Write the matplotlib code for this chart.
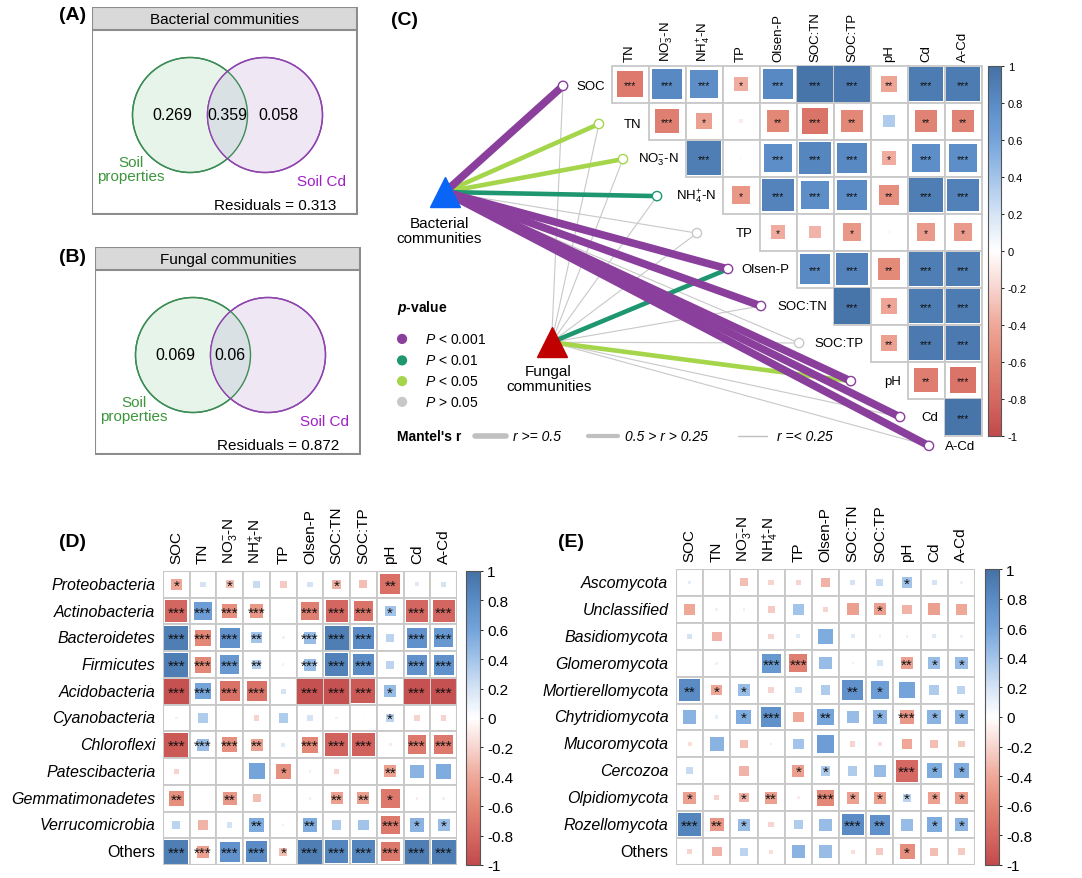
import numpy as np
import matplotlib as mpl
import matplotlib.pyplot as plt
from matplotlib.colors import LinearSegmentedColormap, Normalize
from matplotlib.patches import Rectangle, Circle

plt.rcParams['font.family'] = ['Liberation Sans', 'DejaVu Sans']
plt.rcParams['mathtext.fontset'] = 'custom'
plt.rcParams['mathtext.rm'] = 'Liberation Sans'
plt.rcParams['mathtext.it'] = 'Liberation Sans:italic'
plt.rcParams['mathtext.bf'] = 'Liberation Sans:italic:bold'

W, H = 1082, 879

# ---------------- data ----------------
env_labels = ['SOC', 'TN', r'NO$_3^{-}$-N', r'NH$_4^{+}$-N', 'TP', 'Olsen-P',
              'SOC:TN', 'SOC:TP', 'pH', 'Cd', 'A-Cd']

# variation partitioning (soil properties only, shared, soil Cd only)
bac_venn = ['0.269', '0.359', '0.058']
bac_resid = 0.313
fun_venn = ['0.069', '0.06', '']
fun_resid = 0.872

# soil variable correlations, upper triangle (row i vs variables i+1 ...)
env_r = [
    [-0.68, 0.82, 0.78, -0.38, 0.82, 0.97, 0.95, -0.42, 0.92, 0.92],
    [-0.65, -0.45, -0.10, -0.60, -0.72, -0.60, 0.35, -0.62, -0.62],
    [0.90, -0.04, 0.78, 0.84, 0.82, -0.38, 0.78, 0.78],
    [-0.50, 0.86, 0.78, 0.80, -0.55, 0.90, 0.88],
    [-0.38, -0.35, -0.50, 0.06, -0.48, -0.48],
    [0.82, 0.86, -0.58, 0.90, 0.90],
    [0.97, -0.42, 0.92, 0.92],
    [-0.45, 0.93, 0.93],
    [-0.66, -0.72],
    [0.97],
]
env_sig = [
    [3, 3, 3, 1, 3, 3, 3, 2, 3, 3],
    [3, 1, 0, 2, 3, 2, 0, 2, 2],
    [3, 0, 3, 3, 3, 1, 3, 3],
    [1, 3, 3, 3, 2, 3, 3],
    [1, 0, 1, 0, 1, 1],
    [3, 3, 2, 3, 3],
    [3, 1, 3, 3],
    [2, 3, 3],
    [2, 3],
    [3],
]

# Mantel tests: community vs each soil variable
bac_mantel_r = [0.60, 0.35, 0.35, 0.30, 0.10, 0.55, 0.55, 0.15, 0.60, 0.60, 0.60]
bac_mantel_p = [0.0005, 0.03, 0.03, 0.005, 0.20, 0.0005, 0.0005, 0.10, 0.0005, 0.0005, 0.0005]
fun_mantel_r = [0.05, 0.05, 0.05, 0.05, 0.05, 0.30, 0.05, 0.05, 0.30, 0.10, 0.10]
fun_mantel_p = [0.50, 0.40, 0.40, 0.40, 0.30, 0.005, 0.40, 0.30, 0.02, 0.20, 0.20]

bac_taxa = ['Proteobacteria', 'Actinobacteria', 'Bacteroidetes', 'Firmicutes',
            'Acidobacteria', 'Cyanobacteria', 'Chloroflexi', 'Patescibacteria',
            'Gemmatimonadetes', 'Verrucomicrobia', 'Others']
bac_r = [
    [-0.40, 0.20, -0.30, 0.25, -0.25, 0.20, -0.35, -0.30, -0.75, 0.15, 0.20],
    [-0.82, 0.65, -0.55, -0.50, -0.02, -0.65, -0.82, -0.72, 0.40, -0.82, -0.82],
    [0.90, -0.60, 0.75, 0.40, 0.10, 0.45, 0.90, 0.80, 0.30, 0.75, 0.70],
    [0.90, -0.60, 0.70, 0.35, 0.08, 0.45, 0.88, 0.80, 0.30, 0.75, 0.75],
    [-0.95, 0.60, -0.75, -0.75, 0.20, -0.95, -0.95, -0.90, 0.45, -0.95, -0.95],
    [0.10, 0.35, 0.02, -0.20, 0.35, 0.20, 0.10, 0.05, 0.30, -0.20, -0.20],
    [-0.90, 0.45, -0.55, -0.45, 0.15, -0.60, -0.85, -0.85, -0.10, -0.70, -0.70],
    [-0.20, 0.02, 0.02, 0.60, -0.55, 0.10, -0.20, 0.02, -0.45, 0.50, 0.55],
    [-0.55, 0.02, -0.50, -0.30, 0.02, -0.10, -0.45, -0.45, -0.70, -0.10, 0.10],
    [0.30, -0.35, 0.20, 0.55, -0.08, 0.55, 0.35, 0.40, -0.70, 0.50, 0.45],
    [0.90, -0.45, 0.75, 0.80, -0.30, 0.90, 0.85, 0.85, -0.70, 0.90, 0.90],
]
bac_sig = [
    [1, 0, 1, 0, 0, 0, 1, 0, 2, 0, 0],
    [3, 3, 3, 3, 0, 3, 3, 3, 1, 3, 3],
    [3, 3, 3, 2, 0, 3, 3, 3, 0, 3, 3],
    [3, 3, 3, 2, 0, 3, 3, 3, 0, 3, 3],
    [3, 3, 3, 3, 0, 3, 3, 3, 1, 3, 3],
    [0, 0, 0, 0, 0, 0, 0, 0, 1, 0, 0],
    [3, 3, 3, 2, 0, 3, 3, 3, 0, 3, 3],
    [0, 0, 0, 0, 1, 0, 0, 0, 2, 0, 0],
    [2, 0, 2, 0, 0, 0, 2, 2, 1, 0, 0],
    [0, 0, 0, 2, 0, 2, 0, 0, 3, 1, 1],
    [3, 3, 3, 3, 1, 3, 3, 3, 3, 3, 3],
]

fun_taxa = ['Ascomycota', 'Unclassified', 'Basidiomycota', 'Glomeromycota',
            'Mortierellomycota', 'Chytridiomycota', 'Mucoromycota', 'Cercozoa',
            'Olpidiomycota', 'Rozellomycota', 'Others']
fun_r = [
    [0.12, 0.02, -0.30, -0.20, -0.20, -0.35, 0.20, 0.25, 0.40, 0.20, 0.10],
    [-0.40, 0.10, 0.10, -0.25, 0.40, -0.20, -0.45, -0.45, -0.35, -0.45, -0.40],
    [0.20, -0.35, 0.02, -0.20, 0.15, 0.55, 0.15, 0.10, -0.10, 0.15, 0.10],
    [0.02, 0.10, -0.05, 0.70, -0.65, 0.45, -0.08, 0.20, -0.45, 0.45, 0.45],
    [0.80, -0.40, 0.45, -0.20, 0.25, 0.35, 0.75, 0.65, 0.60, 0.35, 0.30],
    [0.50, 0.12, 0.55, 0.75, -0.40, 0.60, 0.45, 0.50, -0.50, 0.50, 0.50],
    [-0.15, 0.50, -0.30, -0.10, 0.40, 0.65, -0.20, -0.15, -0.40, -0.30, -0.25],
    [0.25, 0.00, -0.35, -0.05, -0.45, 0.35, 0.35, 0.45, -0.80, 0.55, 0.55],
    [-0.45, -0.20, -0.35, -0.45, -0.10, -0.60, -0.45, -0.45, 0.30, -0.45, -0.45],
    [0.85, -0.50, 0.45, -0.20, 0.35, 0.45, 0.80, 0.75, 0.45, 0.55, 0.50],
    [-0.20, -0.35, 0.30, -0.15, 0.50, 0.45, -0.15, -0.25, -0.55, -0.30, -0.25],
]
fun_sig = [
    [0, 0, 0, 0, 0, 0, 0, 0, 1, 0, 0],
    [0, 0, 0, 0, 0, 0, 0, 1, 0, 0, 0],
    [0, 0, 0, 0, 0, 0, 0, 0, 0, 0, 0],
    [0, 0, 0, 3, 3, 0, 0, 0, 2, 1, 1],
    [2, 1, 1, 0, 0, 0, 2, 1, 0, 0, 0],
    [0, 0, 1, 3, 0, 2, 0, 1, 3, 1, 1],
    [0, 0, 0, 0, 0, 0, 0, 0, 0, 0, 0],
    [0, 0, 0, 0, 1, 1, 0, 0, 3, 1, 1],
    [1, 0, 1, 2, 0, 3, 1, 1, 1, 1, 1],
    [3, 2, 1, 0, 0, 0, 3, 2, 0, 1, 1],
    [0, 0, 0, 0, 0, 0, 0, 0, 1, 0, 0],
]

# ---------------- style ----------------
cmap = LinearSegmentedColormap.from_list('corr', [
    (0.0, '#C24A4C'), (0.1, '#D56962'), (0.2, '#E38776'), (0.3, '#EFA899'),
    (0.4, '#F7D5CF'), (0.5, '#FFFFFF'), (0.6, '#D5E4F5'), (0.7, '#A3C4EA'),
    (0.8, '#74A4DA'), (0.9, '#5A8CC5'), (1.0, '#4571A5')])
norm = Normalize(-1, 1)
grid_col = '#C8C8C8'
p_colors = ['#8A3F9C', '#1E9670', '#A4D54A', '#C8C8C8']


def p_color(p):
    if p < 0.001:
        return p_colors[0]
    if p < 0.01:
        return p_colors[1]
    if p < 0.05:
        return p_colors[2]
    return p_colors[3]


def r_width(r):
    if r >= 0.5:
        return 5.5
    if r > 0.25:
        return 3.3
    return 0.8


fig = plt.figure(figsize=(W / 100, H / 100), dpi=100)


def px_axes(x0, y0, w, h):
    return fig.add_axes([x0 / W, 1 - (y0 + h) / H, w / W, h / H])


def draw_cell(ax, x, y, v, s, fs):
    side = abs(v)
    ax.add_patch(Rectangle((x - 0.5, y - 0.5), 1, 1, fc='white', ec=grid_col, lw=1.3, zorder=1))
    ax.add_patch(Rectangle((x - side / 2, y - side / 2), side, side,
                           fc=cmap(norm(v)), ec='none', zorder=2))
    if s:
        ax.annotate('*' * s, (x, y), xytext=(0, -0.08 * fs), textcoords='offset points',
                    ha='center', va='center', fontsize=fs, color='#111111', zorder=3)


def colorbar(cax, fs):
    sm = mpl.cm.ScalarMappable(norm=norm, cmap=cmap)
    cb = fig.colorbar(sm, cax=cax)
    ticks = np.round(np.arange(-1, 1.01, 0.2), 1)
    cb.set_ticks(ticks)
    cb.set_ticklabels([f'{t + 0.0:g}' for t in ticks])
    cb.outline.set_edgecolor('#555555')
    cb.outline.set_linewidth(0.8)
    cax.tick_params(length=2, width=0.6, labelsize=fs, pad=3)


# ---------------- (A) and (B) Venn ----------------
def venn_panel(x0, y0, title, vals, resid):
    ax = px_axes(x0, y0, 266, 208)
    ax.set_xlim(0, 266)
    ax.set_ylim(208, 0)
    ax.axis('off')
    ax.add_patch(Rectangle((0, 0), 265, 207, fc='none', ec='#8C8C8C', lw=1.5))
    ax.add_patch(Rectangle((0, 0), 265, 23, fc='#D9D9D9', ec='#8C8C8C', lw=1.5))
    ax.text(133, 12, title, ha='center', va='center', fontsize=11)
    c1 = Circle((98, 108), 57.5, fc='#E7F4EA', ec='#3C8C55', lw=1)
    c2 = Circle((173, 108), 57.5, fc='#EFE8F4', ec='#8E44AD', lw=1)
    ax.add_patch(c1)
    ax.add_patch(c2)
    ov = Circle((173, 108), 57.5, fc='#D9E1E4', ec='none')
    ax.add_patch(ov)
    ov.set_clip_path(c1)
    ax.add_patch(Circle((98, 108), 57.5, fc='none', ec='#3C8C55', lw=1))
    ax.add_patch(Circle((173, 108), 57.5, fc='none', ec='#8E44AD', lw=1))
    for x, t in zip([80, 135, 186], vals):
        ax.text(x, 108, t, ha='center', va='center', fontsize=11.5)
    ax.text(39, 162, 'Soil\nproperties', ha='center', va='center', fontsize=11,
            color='#3C963C', linespacing=1.0)
    ax.text(230, 174, 'Soil Cd', ha='center', va='center', fontsize=11, color='#A020C8')
    ax.text(183, 198, f'Residuals = {resid}', ha='center', va='center', fontsize=11)


venn_panel(92, 8, 'Bacterial communities', bac_venn, bac_resid)
venn_panel(95, 248, 'Fungal communities', fun_venn, fun_resid)
fig.text(73 / W, 1 - 16 / H, '(A)', ha='center', va='center', fontsize=14, fontweight='bold')
fig.text(73 / W, 1 - 258 / H, '(B)', ha='center', va='center', fontsize=14, fontweight='bold')

# ---------------- (C) Mantel + correlation triangle ----------------
axc = px_axes(360, 0, 650, 465)
axc.set_xlim((360 - 630) / 37, (1010 - 630) / 37)
axc.set_ylim((465 - 85) / 37, (0 - 85) / 37)
axc.axis('off')

for i, (row_r, row_s) in enumerate(zip(env_r, env_sig)):
    for k, (v, s) in enumerate(zip(row_r, row_s)):
        draw_cell(axc, i + k, i, v, s, 7.5)
for j, lab in enumerate(env_labels[1:]):
    axc.text(j, -0.62, lab, rotation=90, ha='center', va='bottom', fontsize=9.5)

# node positions (layout of the network, in cell units)
node_x = [-1.81, -0.84, -0.19, 0.73, 1.81, 2.65, 3.54, 4.57, 5.97, 7.30, 8.08]
node_y = [0.05, 1.08, 2.03, 3.03, 4.03, 5.00, 6.00, 7.00, 8.03, 9.00, 9.78]
bac_xy = (-5.00, 2.92)
fun_xy = (-2.12, 6.98)

edges = []
for src, rs, ps in [(bac_xy, bac_mantel_r, bac_mantel_p), (fun_xy, fun_mantel_r, fun_mantel_p)]:
    for k in range(len(env_labels)):
        edges.append((src, k, rs[k], ps[k]))
edges.sort(key=lambda e: -e[3])
for src, k, r, p in edges:
    axc.plot([src[0], node_x[k]], [src[1], node_y[k]], color=p_color(p),
             lw=r_width(r), solid_capstyle='butt', zorder=1)

node_cols = [p_color(p) for p in bac_mantel_p]
axc.scatter(node_x, node_y, s=45, facecolor='white', edgecolor=node_cols, lw=1.0, zorder=4)
for i, lab in enumerate(env_labels):
    axc.text(i - 0.68, node_y[i], lab, ha='right', va='center', fontsize=9.5)

axc.plot(*bac_xy, marker='^', ms=22, color='#0A64F5', zorder=5)
axc.plot(*fun_xy, marker='^', ms=22, color='#C00000', zorder=5)
axc.text(-5.15, 3.95, 'Bacterial\ncommunities', ha='center', va='center', fontsize=11,
         linespacing=1.1)
axc.text(-2.2, 7.95, 'Fungal\ncommunities', ha='center', va='center', fontsize=11,
         linespacing=1.1)
axc.text(-6.1, -1.75, '(C)', ha='center', va='center', fontsize=14, fontweight='bold')

# p-value legend
axc.text(-6.3, 6.03, r'$\mathbf{p}$-value', ha='left', va='center', fontsize=10,
         fontweight='bold')
p_labels = [r'$P$ < 0.001', r'$P$ < 0.01', r'$P$ < 0.05', r'$P$ > 0.05']
leg_y = [6.89, 7.47, 8.03, 8.59]
axc.scatter([-6.16] * 4, leg_y, s=40, c=p_colors, zorder=4)
for y, lab in zip(leg_y, p_labels):
    axc.text(-5.55, y, lab, ha='left', va='center', fontsize=10)

# Mantel's r legend
axc.text(-6.3, 9.52, "Mantel's r", ha='left', va='center', fontsize=10, fontweight='bold')
for (x0, x1), lw, lab, tx in [((-4.19, -3.35), 4, 'r >= 0.5', -3.15),
                              ((-1.14, -0.32), 3, '0.5 > r > 0.25', -0.14),
                              ((2.92, 3.70), 1, 'r =< 0.25', 3.97)]:
    axc.plot([x0, x1], [9.52, 9.52], color='#C0C0C0', lw=lw, solid_capstyle='round')
    axc.text(tx, 9.52, lab, ha='left', va='center', fontsize=10, fontstyle='italic')

colorbar(px_axes(988, 67, 13, 370), 8)

# ---------------- (D) and (E) taxa heatmaps ----------------
def taxa_panel(rect, cbar_rect, taxa, r, sig, tag, tag_xy):
    ax = px_axes(*rect)
    ax.set_xlim(-0.5, 10.5)
    ax.set_ylim(10.5, -0.5)
    ax.axis('off')
    for i, (row_r, row_s) in enumerate(zip(r, sig)):
        for j, (v, s) in enumerate(zip(row_r, row_s)):
            draw_cell(ax, j, i, v, s, 11)
    ax.add_patch(Rectangle((-0.5, -0.5), 11, 11, fc='none', ec=grid_col, lw=1.5, zorder=3))
    for j, lab in enumerate(env_labels):
        ax.text(j, -0.8, lab, rotation=90, ha='center', va='bottom', fontsize=11)
    for i, lab in enumerate(taxa):
        ax.text(-0.78, i, lab, ha='right', va='center', fontsize=11.5,
                fontstyle='normal' if lab == 'Others' else 'italic')
    colorbar(px_axes(*cbar_rect), 11)
    fig.text(tag_xy[0] / W, 1 - tag_xy[1] / H, tag, ha='center', va='center',
             fontsize=14, fontweight='bold')


taxa_panel((163, 572, 294, 294), (466, 572, 14, 294), bac_taxa, bac_r, bac_sig, '(D)', (72, 543))
taxa_panel((676, 570, 299, 296), (985, 570, 14, 296), fun_taxa, fun_r, fun_sig, '(E)', (571, 543))

fig.savefig('out.png', dpi=100)
